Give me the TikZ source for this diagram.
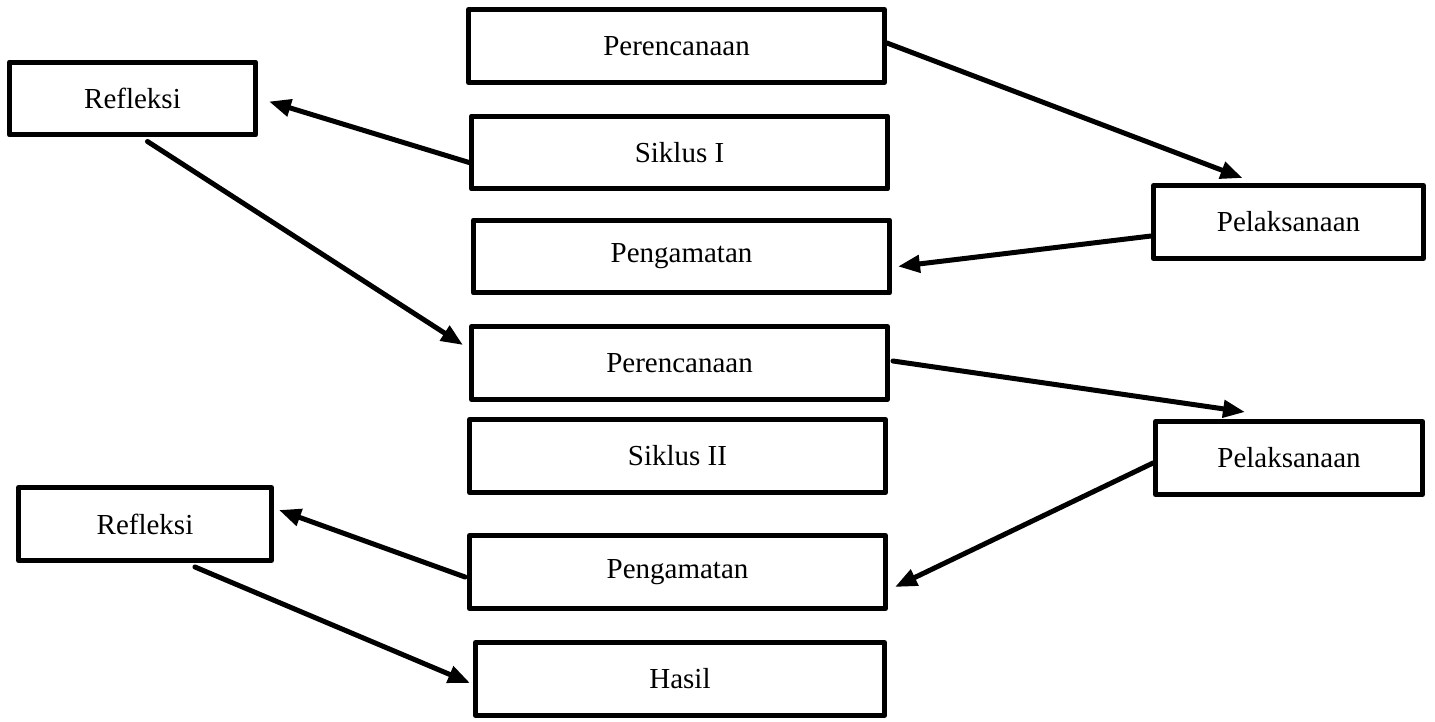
\documentclass[tikz,border=0pt]{standalone}
\usepackage{fontspec}
\setmainfont{Liberation Serif}
\usetikzlibrary{arrows.meta,calc}
\begin{document}
\begin{tikzpicture}[x=0.02cm,y=-0.02cm,>={Triangle[length=0.44cm,width=0.34cm]}, line join=round, line cap=round,
    kotak/.style={draw,line width=0.1cm,inner sep=0pt,minimum height=1.46cm,font=\fontsize{16.5}{20}\selectfont},
    panah/.style={->,line width=0.1cm}]
        \useasboundingbox (0,0) rectangle (1435,722);
        %Siklus I
        \node[kotak,minimum width=8.32cm] (per1) at (676.5,46) {Perencanaan};
        \node[kotak,minimum width=8.32cm] (sik1) at (679.5,152.5) {Siklus I};
        \node[kotak,minimum width=8.32cm] (pen1) at (681.5,256.5) {Pengamatan};
        \node[kotak,minimum width=4.92cm] (ref1) at (132.5,98.5) {Refleksi};
        \node[kotak,minimum width=5.4cm] (pel1) at (1288.5,222) {Pelaksanaan};
        %Siklus II
        \node[kotak,minimum width=8.32cm] (per2) at (679.5,363) {Perencanaan};
        \node[kotak,minimum width=8.32cm] (sik2) at (677.5,456) {Siklus II};
        \node[kotak,minimum width=8.32cm] (pen2) at (677.5,572) {Pengamatan};
        \node[kotak,minimum width=5.06cm] (ref2) at (145,524) {Refleksi};
        \node[kotak,minimum width=5.34cm] (pel2) at (1289,458) {Pelaksanaan};
        \node[kotak,minimum width=8.18cm] (hasil) at (680,679) {Hasil};
        %panah
        \draw[panah] ($(per1.east)+(0,-3)$) -- ($(pel1.north)+(-46,-5)$);
        \draw[panah] ($(pel1.west)+(0,14)$) -- ($(pen1.east)+(6,10)$);
        \draw[panah] ($(sik1.west)+(0,10)$) -- ($(ref1.east)+(11,3)$);
        \draw[panah] ($(ref1.south)+(15,4)$) -- ($(per2.west)+(-6,-18)$);
        \draw[panah] ($(per2.east)+(3,-2)$) -- ($(pel2.north)+(-44,-7)$);
        \draw[panah] ($(pel2.west)+(0,5)$) -- ($(pen2.east)+(7,15)$);
        \draw[panah] ($(pen2.west)+(-2,5)$) -- ($(ref2.east)+(5,-14)$);
        \draw[panah] ($(ref2.south)+(50,4)$) -- ($(hasil.west)+(-3,4)$);
\end{tikzpicture}
\end{document}
